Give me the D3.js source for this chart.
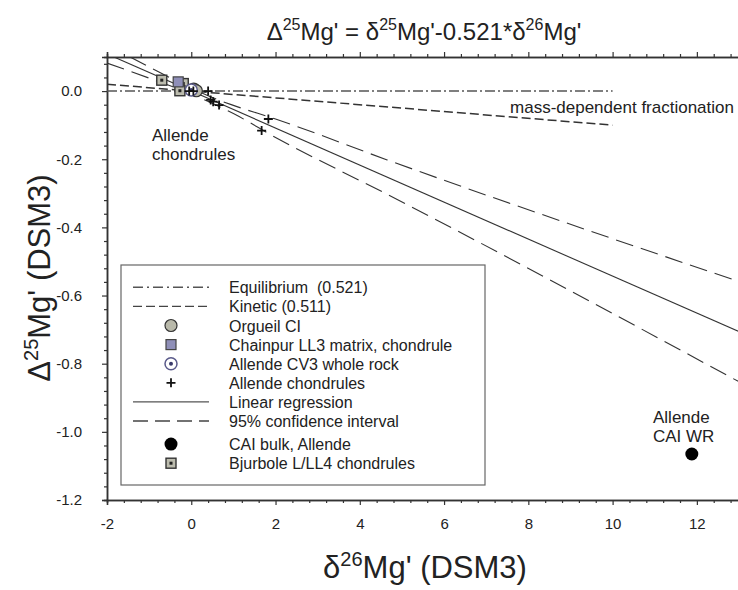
<!DOCTYPE html>
<html>
<head>
<meta charset="utf-8">
<script src="https://cdn.jsdelivr.net/npm/d3@7"></script>
<style>
  body { margin: 0; background: #fff; }
  svg { font-family: "Liberation Sans", Arial, sans-serif; }
</style>
</head>
<body>
<svg id="chart" width="738" height="590"></svg>
<script>
// tick values
const xMajorTicks = [-2, 0, 2, 4, 6, 8, 10, 12];
const yMajorTicks = [0, -0.2, -0.4, -0.6, -0.8, -1.0, -1.2];

// measured points [delta26, Delta25]
const orgueil = [[0.06, 0.006], [0.12, 0.001]];
const chainpur = [[-0.31, 0.027]];
const allendeWR = [[0.0, 0.003]];
const allendeChondrules = [[-0.05, 0.0], [0.05, 0.0], [0.40, 0.0], [0.46, -0.026], [0.52, -0.031], [0.66, -0.041], [1.83, -0.082], [1.67, -0.116]];
const caiBulk = [[11.88, -1.065]];
const bjurbole = [[-0.70, 0.032], [-0.19, 0.022], [-0.27, 0.001]];

// reference lines
const equilibriumLine = [[-2, 0], [10, 0]];
const kineticLine = [[-2, 0.02], [10, -0.1]];
const regressionLine = [[-2, 0.109], [13, -0.706]];
const ciUpper = [[-2, 0.136], [-1, 0.071], [0, 0.0085], [0.5, -0.019], [1, -0.042], [2, -0.082], [4.65, -0.202], [13, -0.559]];
const ciLower = [[-2, 0.082], [-1, 0.038], [0, -0.0085], [0.5, -0.036], [1, -0.066], [2, -0.136], [4.65, -0.303], [13, -0.853]];

const legendItems = [
  {label: "Equilibrium  (0.521)", type: "line", dash: "10,4,2,4", color: "#555"},
  {label: "Kinetic (0.511)", type: "line", dash: "9,4", color: "#444"},
  {label: "Orgueil CI", type: "orgueil"},
  {label: "Chainpur LL3 matrix, chondrule", type: "chainpur"},
  {label: "Allende CV3 whole rock", type: "allendeWR"},
  {label: "Allende chondrules", type: "plus"},
  {label: "Linear regression", type: "line", dash: null, color: "#555"},
  {label: "95% confidence interval", type: "line", dash: "15,7", color: "#444"},
  {label: "CAI bulk, Allende", type: "cai"},
  {label: "Bjurbole L/LL4 chondrules", type: "bjurbole"}
];

const svg = d3.select("#chart");
const plotLeft = 107, plotTop = 57, plotRight = 739, plotBottom = 500;

const x = d3.scaleLinear().domain([-2, 13]).range([plotLeft, plotRight]);
const y = d3.scaleLinear().domain([-1.2, 0.1]).range([plotBottom, plotTop]);

svg.append("defs").append("clipPath").attr("id", "plotclip")
  .append("rect").attr("x", plotLeft).attr("y", plotTop)
  .attr("width", plotRight - plotLeft).attr("height", plotBottom - plotTop);

// title
const title = svg.append("text").attr("x", 424).attr("y", 40).attr("text-anchor", "middle")
  .style("font-size", "24px").attr("fill", "#222");
title.append("tspan").text("\u0394");
title.append("tspan").attr("dy", -10).style("font-size", "16px").text("25");
title.append("tspan").attr("dy", 10).text("Mg' = \u03b4");
title.append("tspan").attr("dy", -10).style("font-size", "16px").text("25");
title.append("tspan").attr("dy", 10).text("Mg'-0.521*\u03b4");
title.append("tspan").attr("dy", -10).style("font-size", "16px").text("26");
title.append("tspan").attr("dy", 10).text("Mg'");

// axes
const minorX = d3.range(-2, 13.01, 0.4).map(v => Math.round(v * 10) / 10).filter(v => !xMajorTicks.includes(v));
const minorY = d3.range(-1.2, 0.101, 0.04).map(v => Math.round(v * 100) / 100).filter(v => !yMajorTicks.includes(v));

function styleAxis(g) {
  g.select(".domain").attr("stroke", "#333").attr("stroke-width", 1.5);
  g.selectAll(".tick line").attr("stroke", "#333").attr("stroke-width", 1.2);
  g.selectAll(".tick text").attr("fill", "#222").style("font-size", "15px");
}

svg.append("g").attr("transform", `translate(0,${plotBottom})`)
  .call(d3.axisBottom(x).tickValues(xMajorTicks).tickSize(5).tickPadding(13).tickFormat(d3.format("d")))
  .call(styleAxis);
svg.append("g").attr("transform", `translate(0,${plotBottom})`)
  .call(d3.axisBottom(x).tickValues(minorX).tickSize(3).tickFormat(""))
  .call(styleAxis);

svg.append("g").attr("transform", `translate(0,${plotTop})`)
  .call(d3.axisTop(x).tickValues(xMajorTicks).tickSize(5).tickFormat(""))
  .call(styleAxis);
svg.append("g").attr("transform", `translate(0,${plotTop})`)
  .call(d3.axisTop(x).tickValues(minorX).tickSize(3).tickFormat(""))
  .call(styleAxis);

svg.append("g").attr("transform", `translate(${plotLeft},0)`)
  .call(d3.axisLeft(y).tickValues(yMajorTicks).tickSize(5).tickPadding(20).tickFormat(d3.format(".1f")))
  .call(styleAxis);
svg.append("g").attr("transform", `translate(${plotLeft},0)`)
  .call(d3.axisLeft(y).tickValues(minorY).tickSize(3).tickFormat(""))
  .call(styleAxis);

svg.selectAll("g").attr("font-family", null);
svg.selectAll(".tick text").text(function() { return this.textContent.replace("\u2212", "-"); });

// axis titles
const yt = svg.append("text").attr("transform", "translate(50,278) rotate(-90)")
  .attr("text-anchor", "middle").style("font-size", "31px").attr("fill", "#222");
yt.append("tspan").text("\u0394");
yt.append("tspan").attr("dy", -12).style("font-size", "20px").text("25");
yt.append("tspan").attr("dy", 12).text("Mg' (DSM3)");

const xt = svg.append("text").attr("x", 425).attr("y", 578)
  .attr("text-anchor", "middle").style("font-size", "31px").attr("fill", "#222");
xt.append("tspan").text("\u03b4");
xt.append("tspan").attr("dy", -12).style("font-size", "20px").text("26");
xt.append("tspan").attr("dy", 12).text("Mg' (DSM3)");

// lines
const line = d3.line().x(d => x(d[0])).y(d => y(d[1]));
const curve = d3.line().x(d => x(d[0])).y(d => y(d[1])).curve(d3.curveMonotoneX);
const plot = svg.append("g").attr("clip-path", "url(#plotclip)");

plot.append("path").datum(equilibriumLine).attr("d", line).attr("fill", "none")
  .attr("stroke", "#555").attr("stroke-width", 1.5).attr("stroke-dasharray", "10,3,2,3");
plot.append("path").datum(kineticLine).attr("d", line).attr("fill", "none")
  .attr("stroke", "#333").attr("stroke-width", 1.5).attr("stroke-dasharray", "9,4");
plot.append("path").datum(regressionLine).attr("d", line).attr("fill", "none")
  .attr("stroke", "#333").attr("stroke-width", 1.1);
[ciUpper, ciLower].forEach(ci => {
  plot.append("path").datum(ci).attr("d", curve).attr("fill", "none")
    .attr("stroke", "#333").attr("stroke-width", 1.1).attr("stroke-dasharray", "18,8");
});

// symbol drawers
function drawSymbol(g, type, cx, cy) {
  if (type === "orgueil") {
    g.append("circle").attr("cx", cx).attr("cy", cy).attr("r", 6)
      .attr("fill", "#b9b9aa").attr("stroke", "#333").attr("stroke-width", 1.2);
  } else if (type === "chainpur") {
    g.append("rect").attr("x", cx - 5).attr("y", cy - 5).attr("width", 10).attr("height", 10)
      .attr("fill", "#8f8fb8").attr("stroke", "#444").attr("stroke-width", 1.2);
  } else if (type === "allendeWR") {
    g.append("circle").attr("cx", cx).attr("cy", cy).attr("r", 6)
      .attr("fill", "#fff").attr("stroke", "#5a5a8a").attr("stroke-width", 1.5);
    g.append("circle").attr("cx", cx).attr("cy", cy).attr("r", 2).attr("fill", "#3a3a6a");
  } else if (type === "plus") {
    g.append("path").attr("d", `M${cx - 4.5},${cy}H${cx + 4.5}M${cx},${cy - 4.5}V${cy + 4.5}`)
      .attr("stroke", "#111").attr("stroke-width", 1.8);
  } else if (type === "cai") {
    g.append("circle").attr("cx", cx).attr("cy", cy).attr("r", 6.5).attr("fill", "#000");
  } else if (type === "bjurbole") {
    g.append("rect").attr("x", cx - 5).attr("y", cy - 5).attr("width", 10).attr("height", 10)
      .attr("fill", "#bcbcae").attr("stroke", "#333").attr("stroke-width", 1.4);
    g.append("rect").attr("x", cx - 1.5).attr("y", cy - 1.5).attr("width", 3).attr("height", 3).attr("fill", "#222");
  }
}

const pts = svg.append("g");
const series = [
  [bjurbole, "bjurbole"], [chainpur, "chainpur"], [orgueil, "orgueil"],
  [allendeWR, "allendeWR"], [allendeChondrules, "plus"], [caiBulk, "cai"]
];
series.forEach(([data, type]) => {
  data.forEach(d => drawSymbol(pts, type, x(d[0]), y(d[1])));
});

// annotations
const note = (tx, ty, lines, anchor) => {
  const t = svg.append("text").attr("x", tx).attr("y", ty).attr("text-anchor", anchor)
    .style("font-size", "17px").attr("fill", "#222");
  lines.forEach((s, i) => t.append("tspan").attr("x", tx).attr("dy", i === 0 ? 0 : 19).text(s));
};
note(734, 113, ["mass-dependent fractionation"], "end");
note(152, 141, ["Allende", "chondrules"], "start");
note(653, 423, ["Allende", "CAI WR"], "start");

// legend
const lg = svg.append("g");
lg.append("rect").attr("x", 121).attr("y", 265).attr("width", 364).attr("height", 220)
  .attr("fill", "#fff").attr("stroke", "#666").attr("stroke-width", 1.2);
legendItems.forEach((item, i) => {
  const yy = 287.3 + i * 19.1 + (i >= 8 ? 4 : 0);
  if (item.type === "line") {
    lg.append("line").attr("x1", 133).attr("x2", 209).attr("y1", yy).attr("y2", yy)
      .attr("stroke", item.color).attr("stroke-width", 1.4).attr("stroke-dasharray", item.dash);
  } else {
    drawSymbol(lg, item.type, 171, yy);
  }
  lg.append("text").attr("x", 229).attr("y", yy + 6).style("font-size", "16px")
    .style("white-space", "pre").attr("fill", "#222").text(item.label);
});
</script>
</body>
</html>
